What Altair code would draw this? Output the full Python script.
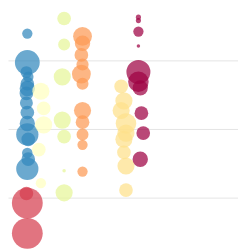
import altair as alt
import pandas as pd

# series: group, x position, y value, bubble size (area)
blue_x = [8.4, 8.4, 8.0, 8.8, 8.4, 8.0, 8.4, 8.4, 8.8, 8.4, 8.4, 8.4, 8.0, 8.4, 8.8]
blue_y = [33.9, 29.7, 28.3, 27.6, 25.9, 25.2, 22.4, 19.2, 18.5, 14.2, 16.5, 26.6, 23.8, 20.8, 15.6]
blue_s = [113, 660, 150, 120, 254, 200, 201, 530, 200, 531, 120, 200, 180, 250, 200]

red_x = [8.4, 8.4, 8.0]
red_y = [9.2, 4.8, 10.6]
red_s = [1018, 1018, 200]

pale_x = [14.3, 15.5, 13.4, 14.3, 15.5]
pale_y = [25.5, 20.6, 17.0, 12.1, 23.0]
pale_s = [314, 314, 201, 113, 200]

lime_x = [24.4, 24.4, 23.6, 23.6, 24.4, 24.4, 24.4]
lime_y = [36.1, 32.3, 27.6, 21.3, 18.9, 10.7, 13.9]
lime_s = [201, 154, 314, 314, 201, 314, 13]

orange_x = [32.4, 32.4, 31.9, 31.9, 32.4, 32.4, 32.4, 32.4, 32.4, 32.4, 32.4]
orange_y = [33.5, 32.5, 30.8, 28.0, 26.6, 22.7, 21.0, 19.2, 17.7, 13.8, 29.4]
orange_s = [380, 254, 201, 380, 154, 314, 201, 154, 113, 113, 160]

gold_x = [49.2, 51.3, 50.4, 51.3, 51.3, 49.2, 50.4, 51.3, 50.4]
gold_y = [22.7, 20.8, 18.5, 14.6, 11.1, 26.2, 24.1, 19.4, 16.6]
gold_s = [314, 452, 314, 314, 201, 201, 314, 314, 200]

wine_x = [56.7, 56.7, 56.7, 56.7, 56.7, 56.7, 58.0, 58.8, 57.5, 57.5]
wine_y = [36.3, 35.8, 34.2, 32.1, 28.3, 26.9, 22.3, 19.4, 15.6, 26.0]
wine_s = [28, 28, 113, 13, 616, 452, 201, 201, 254, 250]

groups = ["blue", "red", "pale", "lime", "orange", "gold", "wine"]
colors = ["#3288bd", "#d53e4f", "#ffffbf", "#e6f598", "#fc9a55", "#fee08b", "#9e0142"]

series = {
    "blue": (blue_x, blue_y, blue_s),
    "red": (red_x, red_y, red_s),
    "pale": (pale_x, pale_y, pale_s),
    "lime": (lime_x, lime_y, lime_s),
    "orange": (orange_x, orange_y, orange_s),
    "gold": (gold_x, gold_y, gold_s),
    "wine": (wine_x, wine_y, wine_s),
}

rows = []
for g, (xs, ys, ss) in series.items():
    for x, y, s in zip(xs, ys, ss):
        rows.append({"group": g, "x": x, "y": y, "size": s})
df = pd.DataFrame(rows)

chart = (
    alt.Chart(df)
    .mark_circle(opacity=0.72)
    .encode(
        x=alt.X("x:Q", scale=alt.Scale(domain=[0, 100]), axis=None),
        y=alt.Y(
            "y:Q",
            scale=alt.Scale(domain=[2.96, 37.04], nice=False, zero=False),
            axis=alt.Axis(values=[10, 20, 30], labels=False, ticks=False, domain=False,
                          title=None, grid=True, gridColor="#e4e4e4"),
        ),
        color=alt.Color("group:N", scale=alt.Scale(domain=groups, range=colors), legend=None),
        size=alt.Size("size:Q", scale=None),
    )
    .properties(width=238, height=242, padding=0, autosize=alt.AutoSizeParams(type="none"))
    .configure_view(stroke=None)
)

chart.save("out.html", embed_options={"renderer": "svg", "actions": False})
